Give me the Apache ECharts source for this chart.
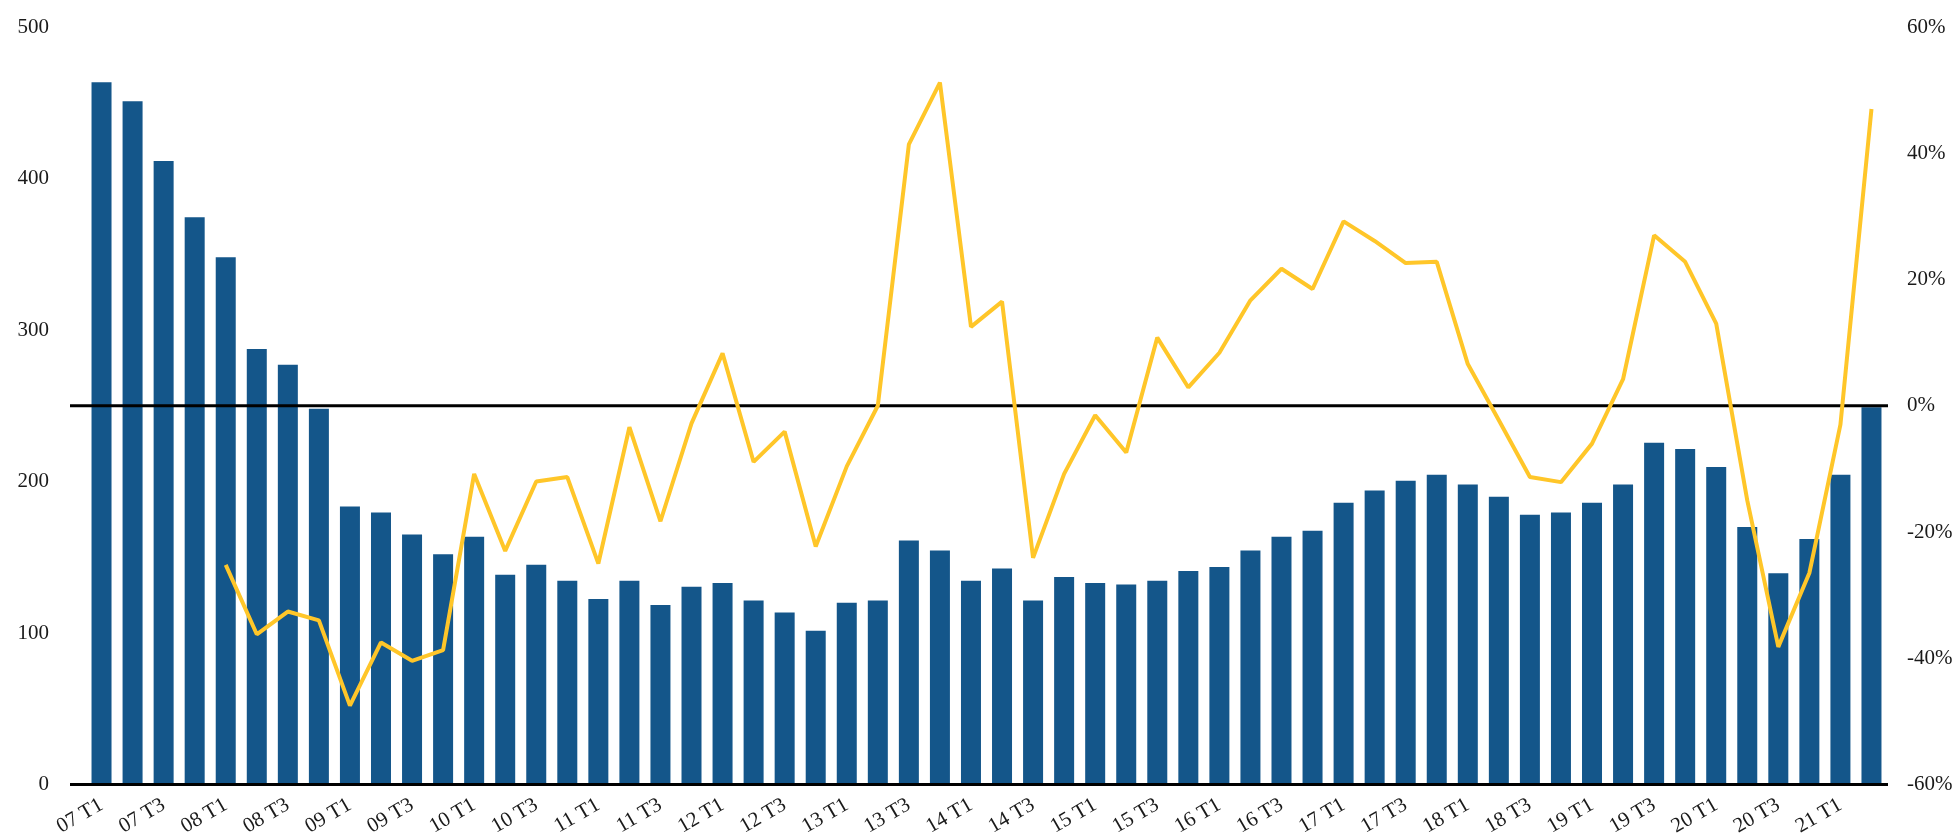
<!DOCTYPE html>
<html>
<head>
<meta charset="utf-8">
<script src="https://cdn.jsdelivr.net/npm/echarts@6/dist/echarts.min.js"></script>
<style>
  html, body { margin: 0; padding: 0; background: #fff; }
  #chart { width: 1957px; height: 839px; }
</style>
</head>
<body>
<div id="chart"></div>
<script>
// Quarters, 2007 Q1 to 2021 Q2
const quarters = [
  '07 T1','07 T2','07 T3','07 T4','08 T1','08 T2','08 T3','08 T4',
  '09 T1','09 T2','09 T3','09 T4','10 T1','10 T2','10 T3','10 T4',
  '11 T1','11 T2','11 T3','11 T4','12 T1','12 T2','12 T3','12 T4',
  '13 T1','13 T2','13 T3','13 T4','14 T1','14 T2','14 T3','14 T4',
  '15 T1','15 T2','15 T3','15 T4','16 T1','16 T2','16 T3','16 T4',
  '17 T1','17 T2','17 T3','17 T4','18 T1','18 T2','18 T3','18 T4',
  '19 T1','19 T2','19 T3','19 T4','20 T1','20 T2','20 T3','20 T4',
  '21 T1','21 T2'
];

// Quarterly volume (left axis)
const volume = [
  463.5, 451, 411.5, 374.5, 348, 287.5, 277, 248,
  183.5, 179.5, 165, 152, 163.5, 138.5, 145, 134.5,
  122.5, 134.5, 118.5, 130.5, 133, 121.5, 113.5, 101.5,
  120, 121.5, 161, 154.5, 134.5, 142.5, 121.5, 137,
  133, 132, 134.5, 141, 143.5, 154.5, 163.5, 167.5,
  186, 194, 200.5, 204.5, 198, 190, 178, 179.5,
  186, 198, 225.5, 221.5, 209.5, 170, 139.5, 162,
  204.5, 249
];

// Year-on-year change in % (right axis); no value for the first year
const yoyChange = [
  null, null, null, null, -25.2, -36.2, -32.6, -34.0,
  -47.5, -37.5, -40.4, -38.7, -10.8, -23.0, -12.0, -11.3,
  -25.0, -3.4, -18.3, -2.8, 8.3, -8.9, -4.1, -22.3,
  -9.6, 0.0, 41.4, 51.2, 12.5, 16.5, -24.1, -10.8,
  -1.5, -7.4, 10.8, 2.9, 8.4, 16.7, 21.7, 18.5,
  29.2, 26.1, 22.6, 22.8, 6.6, -2.3, -11.3, -12.1,
  -6.0, 4.2, 27.0, 22.8, 13.0, -15.0, -38.2, -26.5,
  -3.0, 47.0
];

// Axis tick settings
const leftTicks = { min: 0, max: 500, step: 100 };
const rightTicks = { min: -60, max: 60, step: 20 };

const FONT = '"Liberation Serif", "DejaVu Serif", serif';
const TEXT = '#1a1a1a';

const chart = echarts.init(document.getElementById('chart'), null, { renderer: 'canvas' });

const option = {
  animation: false,
  backgroundColor: '#ffffff',
  grid: { left: 86, right: 70, top: 27, bottom: 54.5, containLabel: false },
  xAxis: {
    type: 'category',
    data: quarters,
    boundaryGap: true,
    axisLine: { show: false },
    axisTick: { show: false },
    splitLine: { show: false },
    axisLabel: {
      interval: 1,
      rotate: 30,
      margin: 19,
      color: TEXT,
      fontFamily: FONT,
      fontSize: 21
    }
  },
  yAxis: [
    {
      type: 'value',
      min: leftTicks.min,
      max: leftTicks.max,
      interval: leftTicks.step,
      axisLine: { show: false },
      axisTick: { show: false },
      splitLine: { show: false },
      axisLabel: { margin: 37, color: TEXT, fontFamily: FONT, fontSize: 21 }
    },
    {
      type: 'value',
      min: rightTicks.min,
      max: rightTicks.max,
      interval: rightTicks.step,
      position: 'right',
      axisLine: { show: false },
      axisTick: { show: false },
      splitLine: { show: false },
      axisLabel: {
        margin: 20,
        color: TEXT,
        fontFamily: FONT,
        fontSize: 21,
        formatter: '{value}%'
      }
    }
  ],
  series: [
    {
      name: 'volume',
      type: 'bar',
      yAxisIndex: 0,
      data: volume,
      barWidth: 20,
      itemStyle: { color: '#14568a' },
      z: 2
    },
    {
      name: 'yoy',
      type: 'line',
      yAxisIndex: 1,
      data: yoyChange,
      showSymbol: false,
      symbol: 'none',
      connectNulls: false,
      lineStyle: { color: '#ffc629', width: 4 },
      z: 5
    }
  ]
};

chart.setOption(option);

// Baseline of the volume axis and the 0% reference line, drawn a little wider than the plot
const yBase = chart.convertToPixel({ yAxisIndex: 0 }, 0);
const yZero = chart.convertToPixel({ yAxisIndex: 1 }, 0);
const xStart = 70;
const xEnd = 1888;

chart.setOption({
  graphic: [
    {
      type: 'line',
      z: 3,
      shape: { x1: xStart, y1: yBase, x2: xEnd, y2: yBase },
      style: { stroke: '#000000', lineWidth: 3 }
    },
    {
      type: 'line',
      z: 3,
      shape: { x1: xStart, y1: yZero, x2: xEnd, y2: yZero },
      style: { stroke: '#000000', lineWidth: 3 }
    }
  ]
});
</script>
</body>
</html>
